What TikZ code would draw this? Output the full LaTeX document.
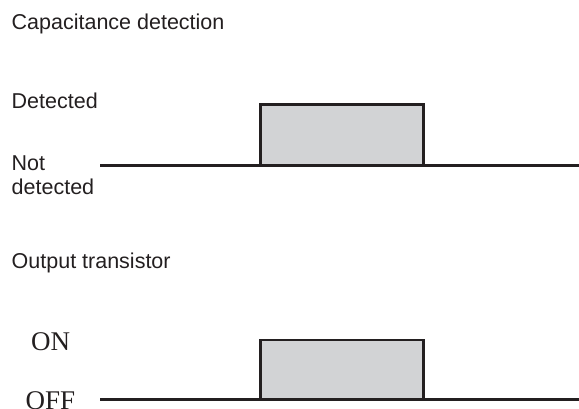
\documentclass[tikz,border=0pt]{standalone}
\usepackage{fontspec}
\setmainfont{Liberation Sans}
\newfontfamily\timesfont{Liberation Serif}
\definecolor{pulsefill}{HTML}{D2D3D5}
\definecolor{ink}{HTML}{231F20}
\tikzset{
  lbl/.style={anchor=base west, inner sep=0pt, font=\fontsize{21.5}{25}\selectfont, text=ink},
  slbl/.style={anchor=base west, inner sep=0pt, font=\timesfont\fontsize{27}{30}\selectfont, text=ink},
  wave/.style={line width=2.6pt, draw=ink},
  pulse/.style={fill=pulsefill, line width=2.6pt, draw=ink}
}
\begin{document}
\begin{tikzpicture}[x=1pt,y=-1pt]
\useasboundingbox (0,0) rectangle (579,408);
% labels
\node[lbl] (t1) at (11.5,29.3) {Capacitance detection};
\node[lbl] (det) at (11.5,108.3) {Detected};
\node[lbl] (not) at (11.5,170) {Not};
\node[lbl] (notd) at (11.5,194.5) {detected};
\node[lbl] (t2) at (11.5,268) {Output transistor};
\node[slbl] (on) at (31,350.7) {ON};
\node[slbl] (off) at (25.5,409.5) {OFF};
% top waveform
\coordinate (a0) at (100,165.7);
\coordinate (a1) at (260.7,104.3);
\coordinate (a2) at (423.3,165.7);
\coordinate (a3) at (579,165.7);
\draw[pulse] (a1) rectangle (a2);
\draw[wave] (a0) -- (a3);
% bottom waveform
\coordinate (b0) at (100,399.3);
\coordinate (b1) at (260.7,340);
\coordinate (b2) at (423.3,399.3);
\coordinate (b3) at (579,399.3);
\draw[pulse] (b1) rectangle (b2);
\draw[wave] (b0) -- (b3);
\end{tikzpicture}
\end{document}
